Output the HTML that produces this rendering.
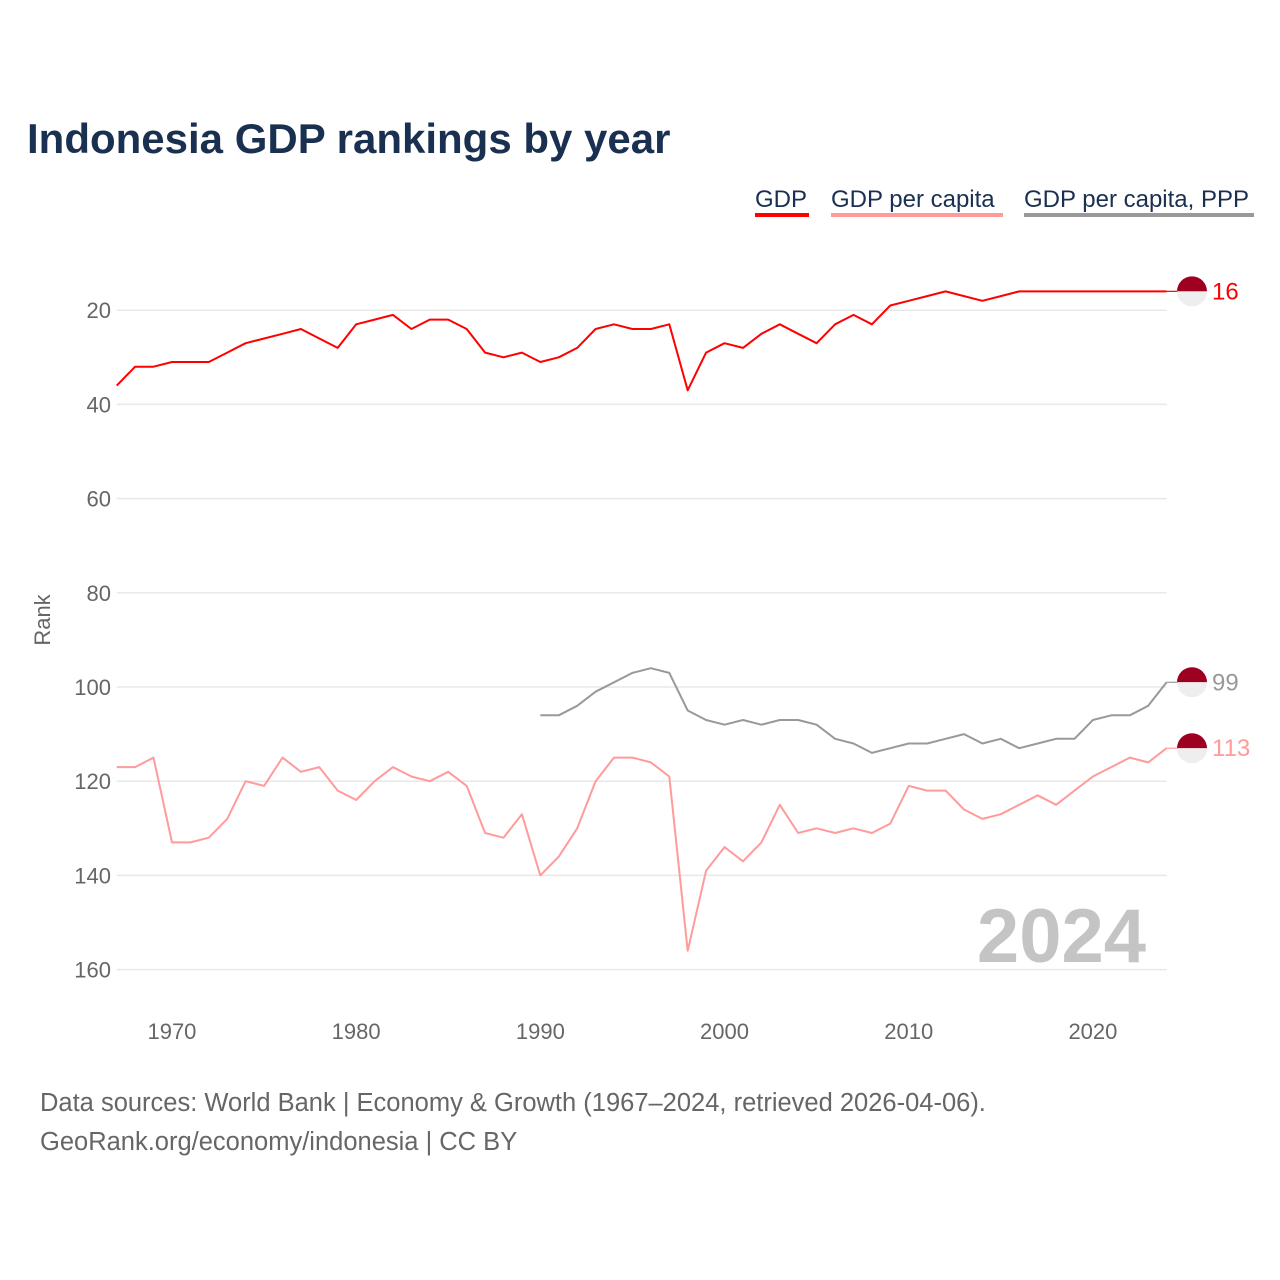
<!DOCTYPE html>
<html><head><meta charset="utf-8"><style>
html,body{margin:0;padding:0;background:#fff;width:1280px;height:1280px;overflow:hidden}
svg text{font-family:"Liberation Sans",sans-serif}
</style></head><body>
<svg id="chart" width="1280" height="1280" viewBox="0 0 1280 1280" xmlns="http://www.w3.org/2000/svg">
<text x="27" y="153" font-size="42" font-weight="bold" fill="#1a3050">Indonesia GDP rankings by year</text>
<g>
<g><text x="755" y="207" font-size="24" fill="#1a3050">GDP</text><rect x="755" y="213" width="54" height="4" fill="#ff0000"/></g>
<g><text x="831" y="207" font-size="24" fill="#1a3050">GDP per capita</text><rect x="831" y="213" width="172" height="4" fill="#ff9b9b"/></g>
<g><text x="1024" y="207" font-size="24" fill="#1a3050">GDP per capita, PPP</text><rect x="1024" y="213" width="230" height="4" fill="#999"/></g>
</g>
<g id="grid"></g>
<g id="yticks"></g>
<g id="xticks"></g>
<text transform="translate(50,620) rotate(-90)" text-anchor="middle" font-size="22" fill="#666">Rank</text>
<text x="1146" y="962" text-anchor="end" font-size="76" font-weight="bold" fill="#c4c4c4">2024</text>
<g id="series"></g>
<text x="40" y="1111" font-size="25.5" fill="#666">Data sources: World Bank | Economy &amp; Growth (1967–2024, retrieved 2026-04-06).</text>
<text x="40" y="1150" font-size="25.5" fill="#666">GeoRank.org/economy/indonesia | CC BY</text>
</svg>
<script>
const yTicks = [20, 40, 60, 80, 100, 120, 140, 160];
const xTicks = [1970, 1980, 1990, 2000, 2010, 2020];
const gdpStart = 1967;
const gdp = [36,32,32,31,31,31,29,27,26,25,24,26,28,23,22,21,24,22,22,24,29,30,29,31,30,28,24,23,24,24,23,37,29,27,28,25,23,25,27,23,21,23,19,18,17,16,17,18,17,16,16,16,16,16,16,16,16,16];
const pcStart = 1967;
const gdpPerCapita = [117,117,115,133,133,132,128,120,121,115,118,117,122,124,120,117,119,120,118,121,131,132,127,140,136,130,120,115,115,116,119,156,139,134,137,133,125,131,130,131,130,131,129,121,122,122,126,128,127,125,123,125,122,119,117,115,116,113];
const pppStart = 1990;
const gdpPerCapitaPPP = [106,106,104,101,99,97,96,97,105,107,108,107,108,107,107,108,111,112,114,113,112,112,111,110,112,111,113,112,111,111,107,106,106,104,99];

const NS = "http://www.w3.org/2000/svg";
const X0 = 116.7, X1 = 1166.6, Y0 = 216, PYR = 4.71;
function xs(yr){ return X0 + (yr - 1967) * (X1 - X0) / (2024 - 1967); }
function ys(r){ return Y0 + r * PYR; }
function mk(tag, attrs, parent){ const e = document.createElementNS(NS, tag); for (const k in attrs) e.setAttribute(k, attrs[k]); parent.appendChild(e); return e; }

const grid = document.getElementById('grid'), yt = document.getElementById('yticks'), xt = document.getElementById('xticks');
yTicks.forEach(t => {
  const l = mk('line', {x1: X0, x2: X1, y1: ys(t), y2: ys(t), stroke: '#e8e8e8', 'stroke-width': 1.5}, grid);
  
  
  const tx = mk('text', {x: 111, y: ys(t) + 8, 'text-anchor': 'end', 'font-size': 22, fill: '#666'}, yt);
  tx.textContent = t;
  
  
});
xTicks.forEach(t => {
  const tx = mk('text', {x: xs(t), y: 1039, 'text-anchor': 'middle', 'font-size': 22, fill: '#666'}, xt);
  tx.textContent = t;
  
  
});

const ser = document.getElementById('series');
function drawSeries(vals, start, color, name, labelColor){
  const pts = vals.map((v, i) => xs(start + i).toFixed(1) + ',' + ys(v).toFixed(1)).join(' ');
  const pl = mk('polyline', {points: pts, fill: 'none', stroke: color, 'stroke-width': 2, 'stroke-linejoin': 'round'}, ser);
  
  
  const last = vals[vals.length - 1], lx = xs(start + vals.length - 1), ly = ys(last);
  mk('line', {x1: lx, x2: 1178, y1: ly, y2: ly, stroke: color, 'stroke-width': 1.2}, ser);
  const g = mk('g', {}, ser);
  
  
  mk('path', {d: `M1177,${ly} A15,15 0 0 1 1207,${ly} Z`, fill: '#9e0022'}, g);
  mk('path', {d: `M1177,${ly} A15,15 0 0 0 1207,${ly} Z`, fill: '#eee'}, g);
  const t = mk('text', {x: 1212, y: ly + 8, 'font-size': 24, fill: labelColor}, ser);
  t.textContent = last;
  
  
}
drawSeries(gdpPerCapitaPPP, pppStart, '#999999', 'gdp-per-capita-ppp', '#999');
drawSeries(gdpPerCapita, pcStart, '#ff9b9b', 'gdp-per-capita', '#ff9b9b');
drawSeries(gdp, gdpStart, '#ff0000', 'gdp', '#ff0000');
</script>
</body></html>
